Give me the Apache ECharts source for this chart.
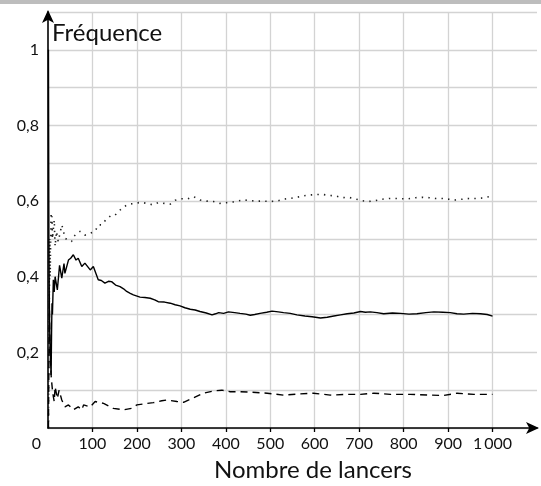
<!DOCTYPE html>
<html>
<head>
<meta charset="utf-8">
<script src="https://cdn.jsdelivr.net/npm/echarts@6/dist/echarts.min.js"></script>
<style>
html,body{margin:0;padding:0;background:#fff;}
#chart{width:541px;height:486px;}
</style>
</head>
<body>
<div id="chart"></div>
<script>
// Data: [nombre de lancers, fréquence]
var solidSeries = [[1,1],[2,0.5],[3,0.33],[4,0.25],[5,0.2],[6,0.17],[7,0.14],[8,0.25],[9,0.33],[10,0.3],[12,0.392],[14,0.36],[16,0.4],[21,0.365],[26,0.43],[31,0.396],[36,0.435],[38,0.409],[46,0.444],[51,0.449],[57,0.458],[63,0.444],[68,0.449],[76,0.427],[83,0.436],[95,0.418],[102,0.427],[113,0.392],[120,0.39],[128,0.383],[136,0.388],[143,0.387],[152,0.378],[162,0.374],[170,0.368],[177,0.361],[185,0.356],[192,0.352],[207,0.346],[218,0.345],[230,0.343],[240,0.339],[248,0.334],[262,0.333],[275,0.33],[286,0.326],[297,0.323],[308,0.318],[320,0.314],[331,0.312],[342,0.308],[356,0.304],[369,0.299],[377,0.302],[384,0.305],[395,0.303],[406,0.307],[420,0.305],[432,0.303],[445,0.301],[455,0.298],[465,0.3],[477,0.303],[492,0.306],[504,0.309],[518,0.307],[530,0.305],[545,0.303],[560,0.299],[578,0.296],[594,0.294],[613,0.291],[628,0.293],[643,0.296],[658,0.299],[673,0.302],[688,0.304],[703,0.308],[714,0.306],[725,0.307],[740,0.305],[755,0.302],[775,0.304],[793,0.303],[812,0.301],[830,0.302],[850,0.305],[868,0.307],[888,0.306],[905,0.305],[920,0.302],[935,0.301],[955,0.303],[973,0.302],[988,0.3],[1000,0.296]];

var dottedSeries = [[1,0],[2,0.5],[3,0.33],[4,0.5],[5,0.4],[6,0.5],[7,0.57],[8,0.5],[9,0.56],[10,0.5],[12,0.5],[14,0.55],[16,0.48],[19,0.52],[23,0.493],[27,0.515],[31,0.537],[35,0.52],[38,0.502],[45,0.497],[53,0.493],[57,0.506],[72,0.52],[83,0.51],[95,0.515],[106,0.52],[113,0.537],[121,0.537],[131,0.552],[143,0.563],[151,0.563],[161,0.575],[170,0.585],[183,0.592],[196,0.594],[209,0.597],[222,0.594],[236,0.59],[248,0.596],[261,0.594],[275,0.592],[286,0.602],[299,0.606],[314,0.606],[327,0.612],[342,0.603],[357,0.6],[372,0.599],[387,0.594],[402,0.596],[417,0.598],[440,0.603],[455,0.601],[470,0.6],[485,0.6],[500,0.599],[515,0.6],[530,0.605],[545,0.607],[560,0.61],[575,0.614],[586,0.616],[601,0.617],[616,0.618],[631,0.615],[646,0.614],[661,0.609],[676,0.61],[691,0.606],[706,0.601],[721,0.599],[736,0.601],[752,0.605],[767,0.607],[782,0.607],[797,0.606],[811,0.606],[827,0.609],[842,0.61],[857,0.609],[872,0.607],[887,0.607],[902,0.605],[917,0.603],[932,0.605],[947,0.607],[962,0.607],[977,0.608],[994,0.612]];

var dashedSeries = [[1,0],[2,0],[3,0.33],[4,0.25],[5,0.2],[6,0.17],[7,0.14],[8,0.125],[10,0.1],[12,0.083],[14,0.07],[16,0.109],[21,0.078],[25,0.1],[31,0.074],[38,0.056],[46,0.061],[57,0.048],[68,0.056],[76,0.048],[80,0.061],[95,0.056],[106,0.07],[125,0.065],[147,0.052],[170,0.048],[188,0.052],[200,0.061],[222,0.065],[237,0.067],[256,0.072],[267,0.074],[290,0.07],[305,0.068],[324,0.078],[350,0.092],[372,0.098],[391,0.1],[410,0.096],[432,0.096],[455,0.095],[493,0.092],[530,0.087],[564,0.09],[597,0.092],[635,0.087],[673,0.089],[703,0.089],[733,0.092],[770,0.089],[815,0.089],[860,0.087],[890,0.086],[920,0.092],[958,0.089],[1000,0.089]];

var xTickLabels = ['0','100','200','300','400','500','600','700','800','900','1\u2009000'];
var yTickLabels = {2:'0,2', 4:'0,4', 6:'0,6', 8:'0,8', 10:'1'};
var yTitle = 'Fréquence';
var xTitle = 'Nombre de lancers';

var FONT = 'Lato, "Noto Sans", sans-serif';
var chart = echarts.init(document.getElementById('chart'), null, {renderer:'canvas'});

var option = {
  animation: false,
  backgroundColor: '#ffffff',
  title: [
    {text: yTitle, left: 52, top: 21, padding: 0,
     textStyle: {fontFamily: FONT, fontSize: 24, fontWeight: 'normal', color: '#111', lineHeight: 24}},
    {text: xTitle, left: 214, top: 458, padding: 0,
     textStyle: {fontFamily: FONT, fontSize: 24, fontWeight: 'normal', color: '#111', lineHeight: 24}}
  ],
  graphic: [
    {type: 'rect', left: 0, top: 0, shape: {width: 541, height: 4}, style: {fill: '#bdbdbd'}, silent: true}
  ],
  grid: {left: 48, right: 4, top: 12, bottom: 58, containLabel: false},
  xAxis: {
    type: 'value', min: 0, max: 1100, interval: 100,
    axisLine: {show: true, symbol: ['none', 'arrow'], symbolSize: [9, 13], symbolOffset: [0, 2],
               lineStyle: {color: '#000', width: 1.6}},
    axisTick: {show: true, length: 4, lineStyle: {color: '#000', width: 1.3},
               customValues: [100,200,300,400,500,600,700,800,900,1000]},
    axisLabel: {
      margin: 8, color: '#111', fontFamily: FONT, fontSize: 16,
      formatter: function (v) {
        var i = Math.round(v / 100);
        if (i === 0) return '{z|0}';
        if (i > 10) return '';
        return xTickLabels[i];
      },
      rich: {z: {fontFamily: FONT, fontSize: 16, color: '#111', padding: [0, 23, 0, 0]}}
    },
    splitLine: {show: true, lineStyle: {color: '#d3d3d3', width: 1.3}}
  },
  yAxis: {
    type: 'value', min: 0, max: 1.1, interval: 0.1,
    axisLine: {show: true, onZero: false, symbol: ['none', 'arrow'], symbolSize: [9, 13], symbolOffset: [0, 2],
               lineStyle: {color: '#000', width: 1.6}},
    axisTick: {show: false},
    axisLabel: {
      margin: 9, color: '#111', fontFamily: FONT, fontSize: 16,
      formatter: function (v) {
        var k = Math.round(v * 10);
        return yTickLabels[k] || '';
      }
    },
    splitLine: {show: true, lineStyle: {color: '#d3d3d3', width: 1.3}}
  },
  series: [
    {type: 'line', data: dottedSeries, showSymbol: false, smooth: false, z: 3,
     lineStyle: {color: '#222', width: 1.6, type: [1.4, 5.2], cap: 'butt'}},
    {type: 'line', data: solidSeries, showSymbol: false, smooth: false, z: 4,
     lineStyle: {color: '#000', width: 1.4}},
    {type: 'line', data: dashedSeries, showSymbol: false, smooth: false, z: 3,
     lineStyle: {color: '#000', width: 1.4, type: [7, 5]}}
  ]
};
chart.setOption(option);
</script>
</body>
</html>
